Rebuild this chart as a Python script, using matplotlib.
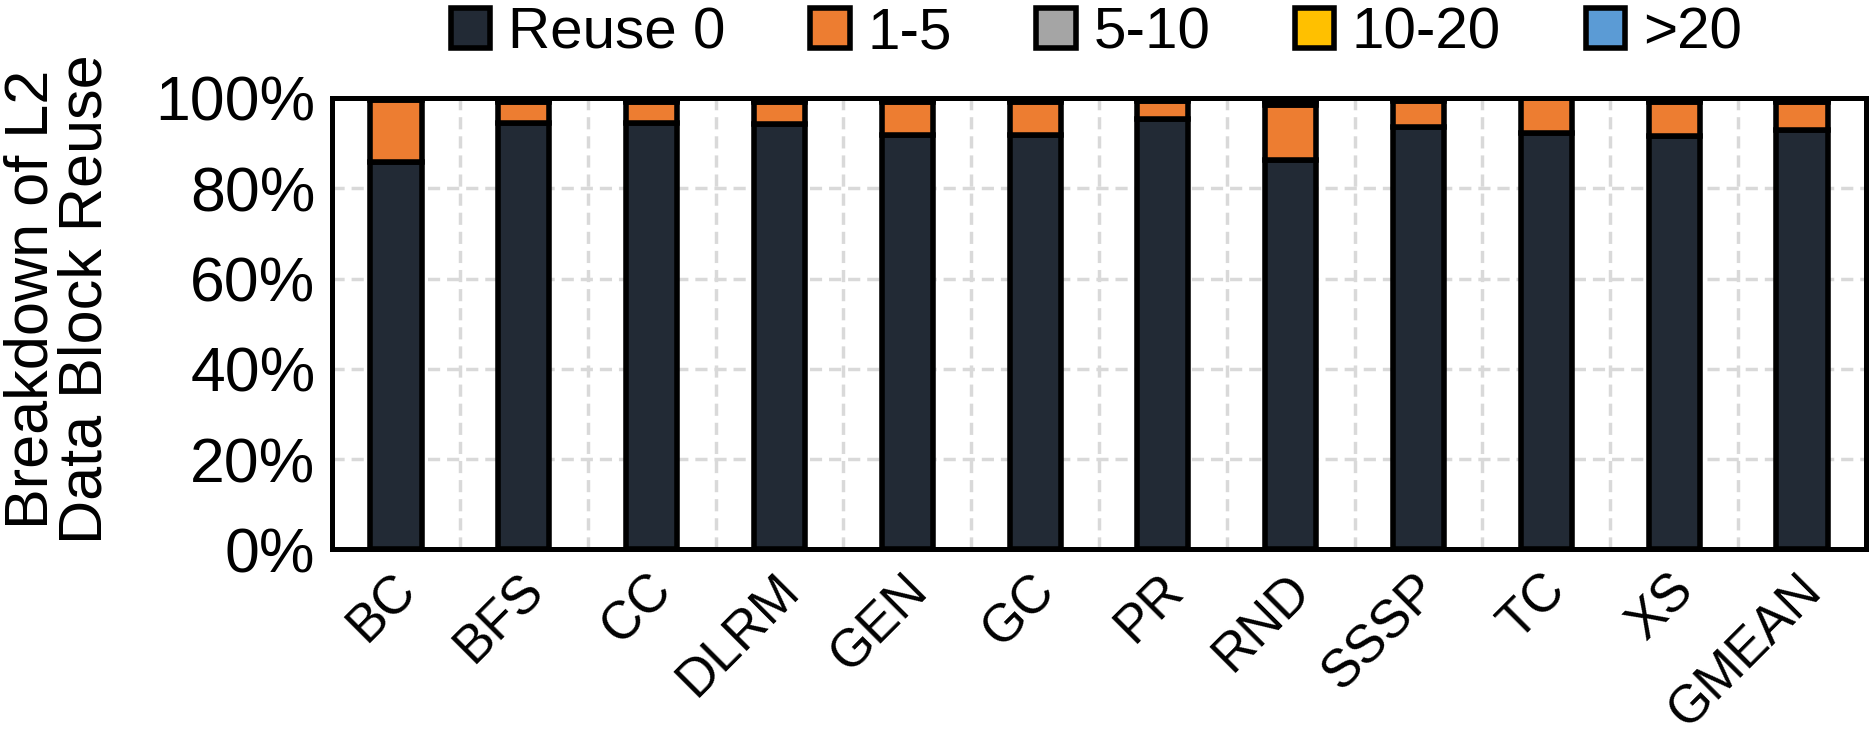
import numpy as np
import matplotlib
matplotlib.use("Agg")
import matplotlib.pyplot as plt
import matplotlib.transforms as mtransforms

plt.rcParams['font.family'] = ['Liberation Sans', 'DejaVu Sans']

# data (percent of L2 data blocks)
benchmarks = ['BC', 'BFS', 'CC', 'DLRM', 'GEN', 'GC', 'PR', 'RND', 'SSSP', 'TC', 'XS', 'GMEAN']
reuse_0 = [85.8, 94.4, 94.5, 94.2, 91.7, 91.7, 95.3, 86.3, 93.6, 92.3, 91.6, 93.0]
reuse_1_5 = [13.8, 4.6, 4.5, 4.8, 7.3, 7.3, 4.1, 12.1, 5.8, 7.6, 7.4, 6.0]
reuse_5_10 = [0.3, 0.6, 0.6, 0.6, 0.6, 0.6, 0.4, 1.0, 0.4, 0.1, 0.6, 0.6]
reuse_10_20 = [0.1, 0.3, 0.3, 0.3, 0.3, 0.3, 0.1, 0.4, 0.1, 0.0, 0.3, 0.3]
reuse_20 = [0.0, 0.1, 0.1, 0.1, 0.1, 0.1, 0.1, 0.2, 0.1, 0.0, 0.1, 0.1]

series = [reuse_0, reuse_1_5, reuse_5_10, reuse_10_20, reuse_20]
labels = ['Reuse 0', '1-5', '5-10', '10-20', '>20']
colors = ['#222A35', '#ED7D31', '#A5A5A5', '#FFC000', '#5B9BD5']

fig = plt.figure(figsize=(18.74, 7.35), dpi=100)
ax = fig.add_axes([0.1772, 0.2524, 0.8185, 0.6143])

x = np.arange(len(benchmarks))
bottom = np.zeros(len(benchmarks))
for vals, lab, col in zip(series, labels, colors):
    v = np.array(vals) / 100.0
    ax.bar(x, v, width=0.4, bottom=bottom, color=col, edgecolor='black',
           linewidth=4.0, label=lab)
    bottom += v

ax.set_xlim(-0.5, len(benchmarks) - 0.5)
ax.set_ylim(0, 1)
ticks = np.arange(0, 1.01, 0.2)
ax.set_yticks(ticks)
ax.set_yticklabels(['%d%%' % round(t * 100) for t in ticks])
ax.set_xticks(x)
ax.set_xticks(x[:-1] + 0.5, minor=True)

# grid: dashed light grey, vertical lines between bars
ax.set_axisbelow(True)
ax.grid(axis='y', which='major', color='#D9D9D9', linestyle=(0, (3.5, 2)), linewidth=2.5)
ax.grid(axis='x', which='minor', color='#D9D9D9', linestyle=(0, (3.5, 2)), linewidth=2.5)
ax.grid(axis='x', which='major', visible=False)

for s in ax.spines.values():
    s.set_linewidth(3.6)
    s.set_color('black')

ax.tick_params(axis='both', which='both', length=0)
ax.tick_params(axis='y', labelsize=45, pad=12)
ax.tick_params(axis='x', labelsize=38, pad=11)

ax.set_xticklabels(benchmarks, rotation=45, ha='right', va='top')
offset = mtransforms.ScaledTranslation(30 / 100.0, 0, fig.dpi_scale_trans)
for lbl in ax.get_xticklabels():
    lbl.set_transform(lbl.get_transform() + offset)

ax.set_ylabel('Breakdown of L2\nData Block Reuse', fontsize=44, linespacing=0.95,
              va='center', ha='center')
ax.yaxis.set_label_coords(-0.178, 0.555)

leg = fig.legend(loc='center', bbox_to_anchor=(0.585, 0.955), ncol=5, frameon=False,
                 fontsize=42, handlelength=0.68, handleheight=0.68,
                 handletextpad=0.3, columnspacing=1.45, borderpad=0)

fig.savefig('out.png', dpi=100)
